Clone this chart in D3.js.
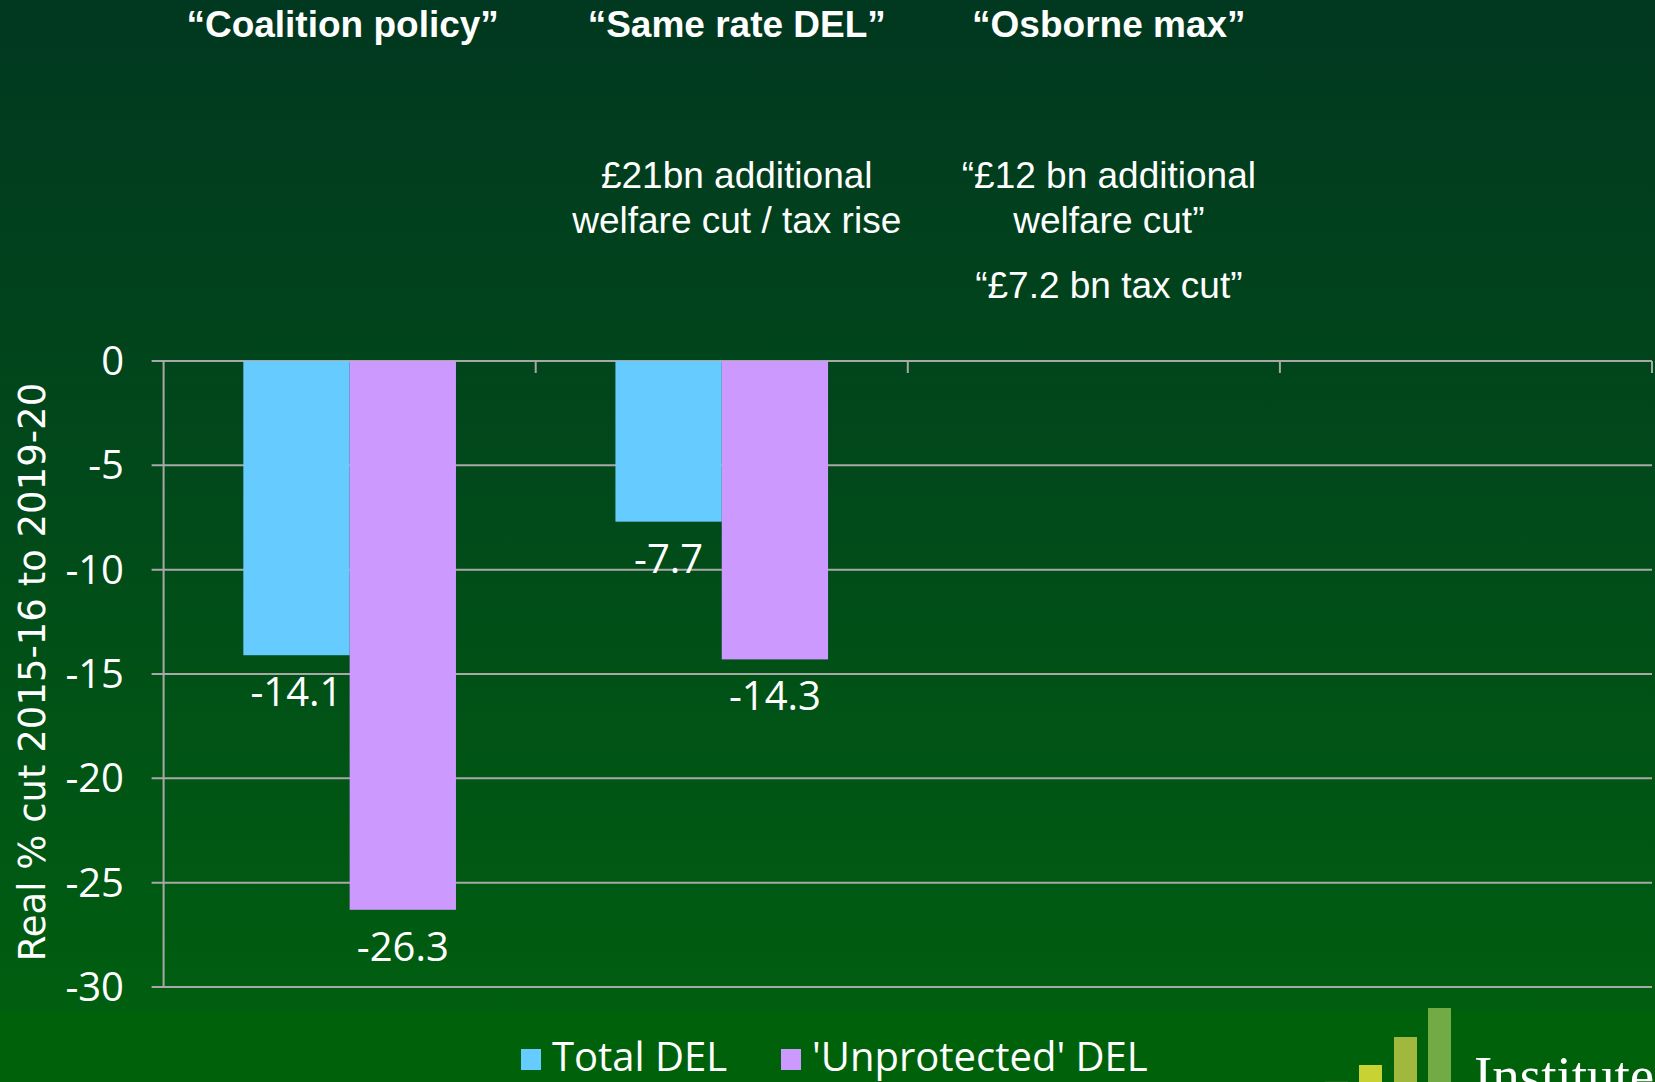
<!DOCTYPE html>
<html>
<head>
<meta charset="utf-8">
<script src="https://cdn.jsdelivr.net/npm/d3@7"></script>
<style>
  html, body { margin: 0; padding: 0; background: #013a20; }
  svg { display: block; }
</style>
</head>
<body>
<svg id="chart" width="1655" height="1082"></svg>
<script>
// ---- data ----
const categories = ["Coalition policy", "Same rate DEL", "Osborne max", ""];
const seriesNames = ["Total DEL", "'Unprotected' DEL"];
const totalDEL = [-14.1, -7.7, null, null];
const unprotectedDEL = [-26.3, -14.3, null, null];
const yTicks = [0, -5, -10, -15, -20, -25, -30];
const headers = ["\u201CCoalition policy\u201D", "\u201CSame rate DEL\u201D", "\u201COsborne max\u201D"];
const notesSameRate = ["\u00A321bn additional", "welfare cut / tax rise"];
const notesOsborne = ["\u201C\u00A312 bn additional", "welfare cut\u201D"];
const notesOsborne2 = ["\u201C\u00A37.2 bn tax cut\u201D"];
const yTitle = "Real % cut 2015-16 to 2019-20";

const colors = ["#66ccff", "#cc99ff"];
const W = 1655, H = 1082;
const svg = d3.select("#chart");

// background
const defs = svg.append("defs");
const grad = defs.append("linearGradient").attr("id", "bg").attr("x1", 0).attr("y1", 0).attr("x2", 0).attr("y2", 1);
grad.append("stop").attr("offset", "0%").attr("stop-color", "#013820");
grad.append("stop").attr("offset", "50%").attr("stop-color", "#014a1a");
grad.append("stop").attr("offset", "100%").attr("stop-color", "#005e10");
svg.append("rect").attr("x", 0).attr("y", 0).attr("width", W).attr("height", 1010).attr("fill", "url(#bg)");
svg.append("rect").attr("x", 0).attr("y", 1010).attr("width", W).attr("height", H - 1010).attr("fill", "#00610b");

// scales
const plot = { left: 163.6, right: 1652, top: 361, bottom: 987 };
const x = d3.scaleBand().domain(categories.map((c, i) => i)).range([plot.left, plot.right]).paddingInner(0).paddingOuter(0);
const xs = d3.scaleBand().domain(seriesNames).range([0, x.bandwidth()]).paddingInner(0).paddingOuter(0.75);
const y = d3.scaleLinear().domain([0, -30]).range([plot.top, plot.bottom]);

const grey = "#a8a8a8";
// gridlines
svg.append("g").selectAll("line").data(yTicks).join("line")
  .attr("x1", plot.left - 12).attr("x2", plot.right)
  .attr("y1", d => y(d)).attr("y2", d => y(d))
  .attr("stroke", grey).attr("stroke-width", 2);
// y axis line
svg.append("line").attr("x1", plot.left).attr("x2", plot.left).attr("y1", plot.top).attr("y2", plot.bottom)
  .attr("stroke", grey).attr("stroke-width", 2);
// category tick marks (axis at y=0, ticks downward)
const bounds = categories.map((c, i) => x(i) + x.bandwidth());
svg.append("g").selectAll("line").data(bounds).join("line")
  .attr("x1", d => d).attr("x2", d => d).attr("y1", plot.top).attr("y2", plot.top + 12)
  .attr("stroke", grey).attr("stroke-width", 2);

// y tick labels
svg.append("g").selectAll("text").data(yTicks).join("text")
  .attr("x", 124).attr("y", d => y(d) + 14)
  .attr("text-anchor", "end")
  .attr("font-family", "'Open Sans', sans-serif").attr("font-size", 40)
  .attr("fill", "#ffffff").text(d => d);

// y title
svg.append("text")
  .attr("transform", "translate(45,672) rotate(-90)")
  .attr("text-anchor", "middle")
  .attr("font-family", "'DejaVu Sans', sans-serif").attr("font-size", 37)
  .attr("fill", "#ffffff").text(yTitle);

// bars
const seriesData = [totalDEL, unprotectedDEL];
seriesData.forEach((vals, si) => {
  const g = svg.append("g");
  const pts = vals.map((v, i) => ({ i, v })).filter(d => d.v !== null);
  g.selectAll("rect").data(pts).join("rect")
    .attr("x", d => x(d.i) + xs(seriesNames[si]))
    .attr("width", xs.bandwidth())
    .attr("y", y(0))
    .attr("height", d => y(d.v) - y(0))
    .attr("fill", colors[si]);
  g.selectAll("text").data(pts).join("text")
    .attr("x", d => x(d.i) + xs(seriesNames[si]) + xs.bandwidth() / 2)
    .attr("y", d => y(d.v) + 51)
    .attr("text-anchor", "middle")
    .attr("font-family", "'Open Sans', sans-serif").attr("font-size", 40)
    .attr("fill", "#ffffff").text(d => d.v.toFixed(1));
});

// headers & notes
const hdx = [-7, 15, 15];
const cx = i => x(i) + x.bandwidth() / 2 + hdx[i];
svg.append("g").selectAll("text").data(headers).join("text")
  .attr("x", (d, i) => cx(i)).attr("y", 37)
  .attr("text-anchor", "middle")
  .attr("font-family", "'Liberation Sans', Arial, sans-serif").attr("font-weight", "bold").attr("font-size", 37)
  .attr("fill", "#ffffff").text(d => d);

function notes(lines, i, y0, dy) {
  svg.append("g").selectAll("text").data(lines).join("text")
    .attr("x", cx(i)).attr("y", (d, k) => y0 + k * dy)
    .attr("text-anchor", "middle")
    .attr("font-family", "'Liberation Sans', Arial, sans-serif").attr("font-size", 37)
    .attr("fill", "#ffffff").text(d => d);
}
notes(notesSameRate, 1, 188, 45);
notes(notesOsborne, 2, 188, 45);
notes(notesOsborne2, 2, 298, 45);

// legend
const legX = [521, 781];
const lg = svg.append("g");
seriesNames.forEach((s, i) => {
  lg.append("rect").attr("x", legX[i]).attr("y", 1049).attr("width", 20).attr("height", 21).attr("fill", colors[i]);
  lg.append("text").attr("x", legX[i] + 31).attr("y", 1071)
    .attr("font-family", "'Open Sans', sans-serif").attr("font-size", 40)
    .attr("fill", "#ffffff").text(s);
});

// logo (bottom right)
const logo = svg.append("g");
const logoBars = [[1325, 1081, "#1d6a1a"], [1359, 1065, "#c8d232"], [1394, 1037, "#a0b83e"], [1428, 1008, "#72ab45"]];
logoBars.forEach(b => logo.append("rect").attr("x", b[0]).attr("y", b[1]).attr("width", 23).attr("height", H - b[1]).attr("fill", b[2]));
logo.append("text").attr("x", 1474).attr("y", 1094)
  .attr("font-family", "'Liberation Serif', serif").attr("font-size", 55)
  .attr("fill", "#ffffff").text("Institute");
</script>
</body>
</html>
